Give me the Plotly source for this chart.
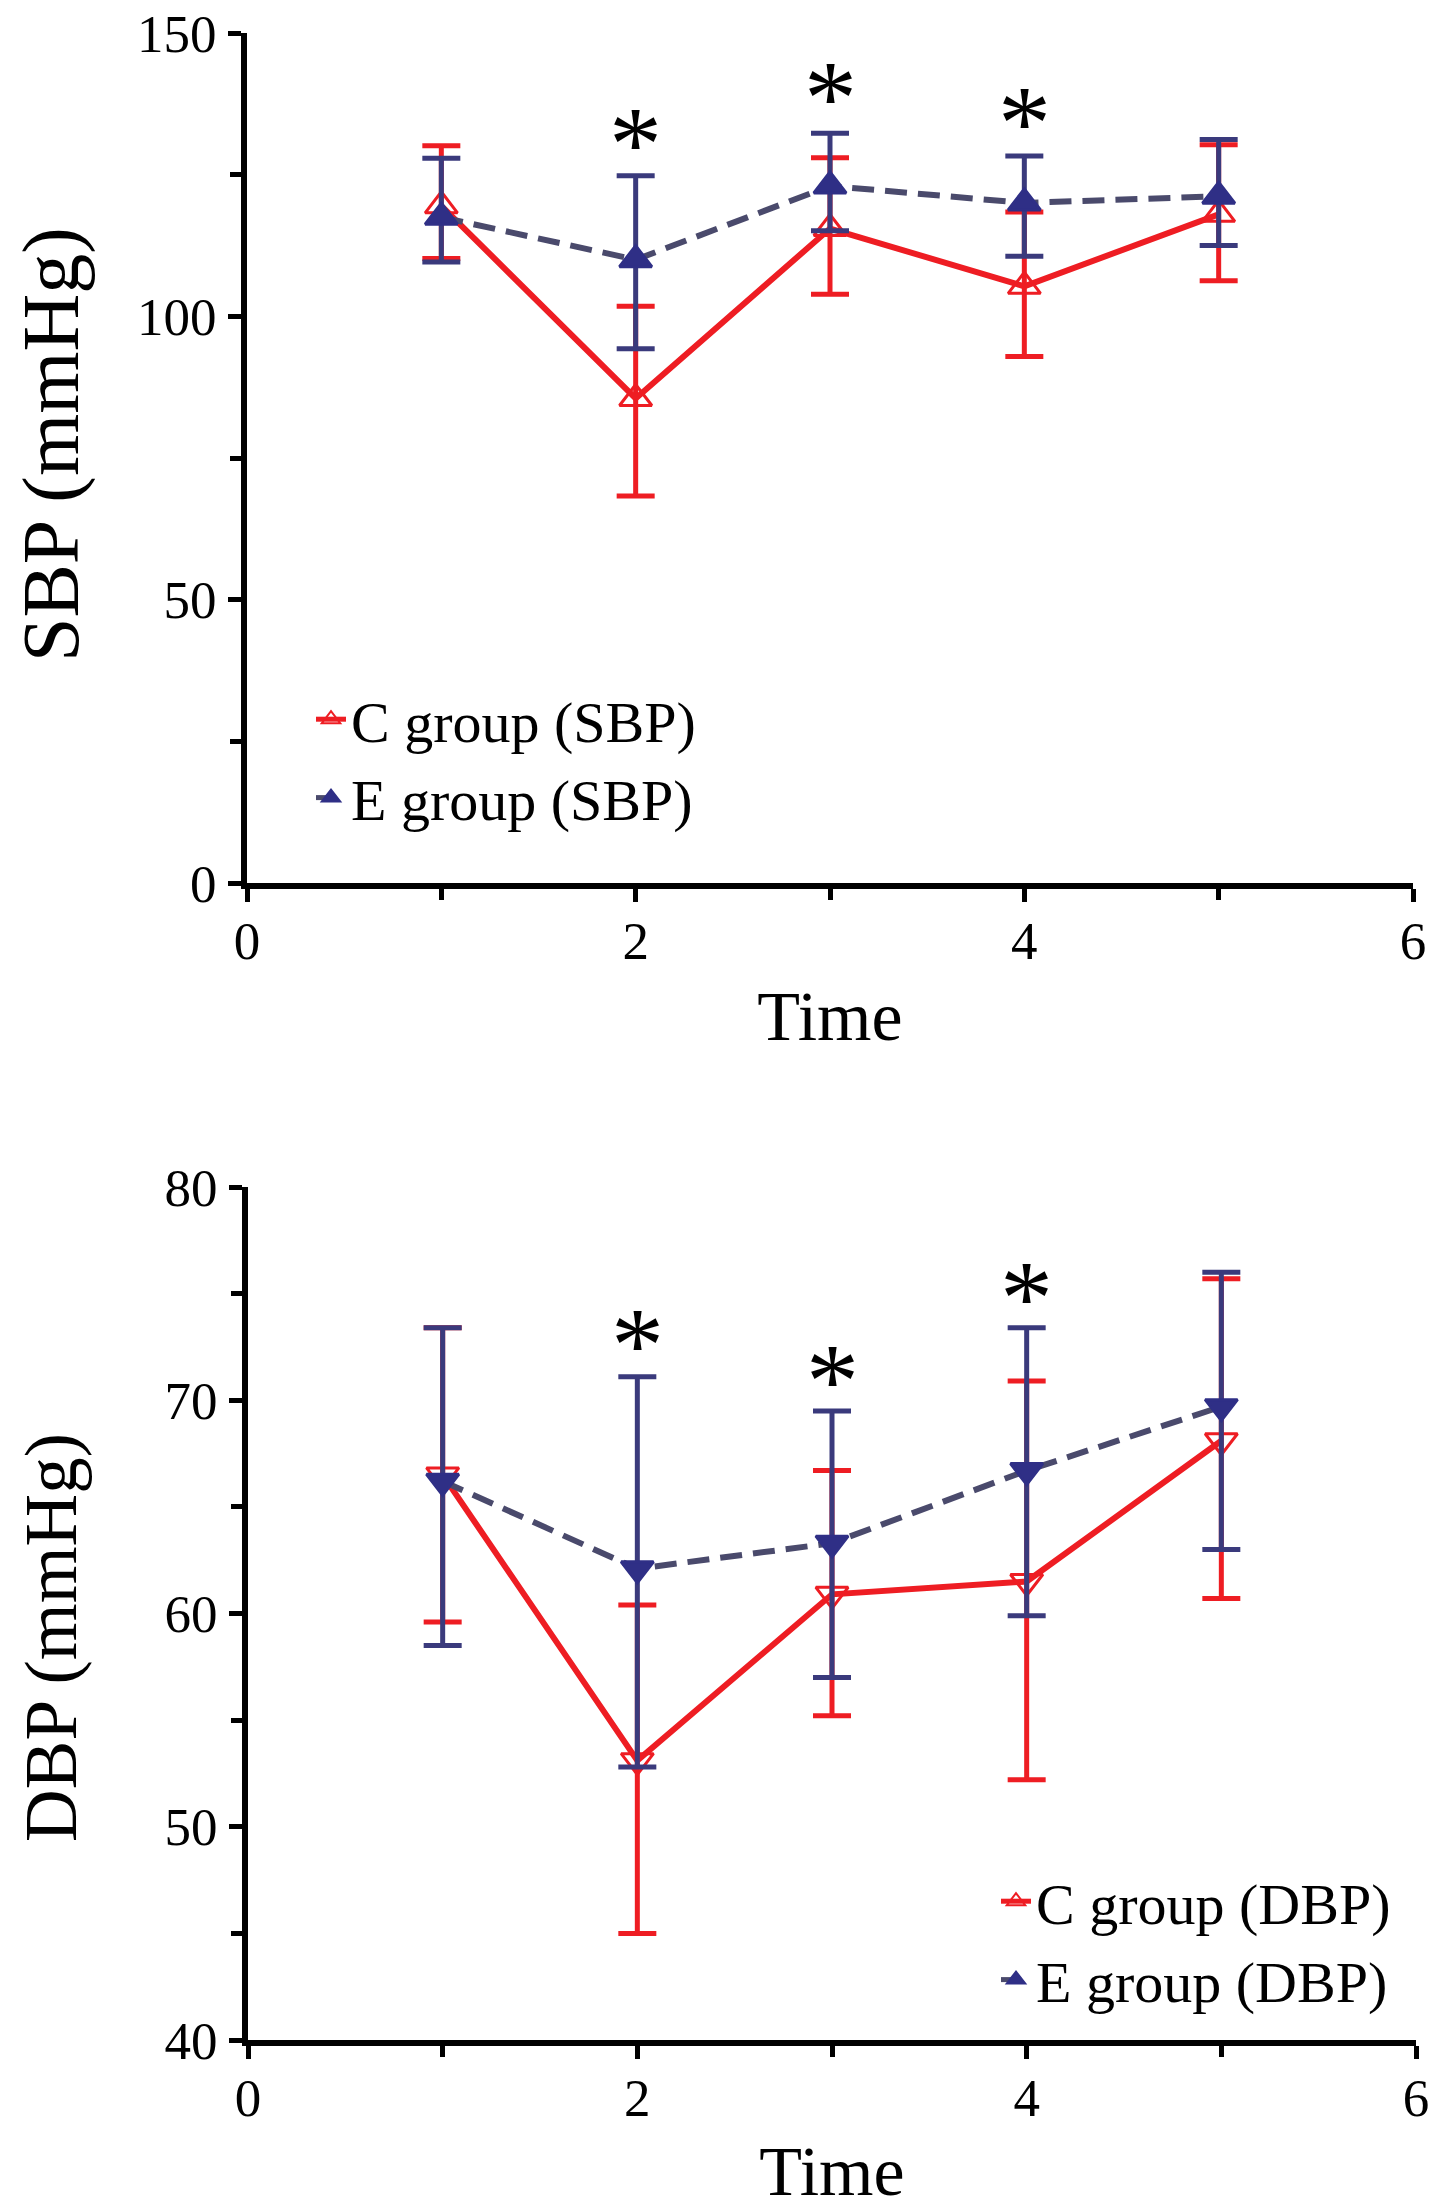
import plotly.graph_objects as go

# ---------------- data ----------------
time = [1, 2, 3, 4, 5]

sbp_c_mean = [119.5, 85.5, 115.5, 105.3, 118.0]
sbp_c_upper = [130.1, 101.8, 128.0, 118.4, 130.3]
sbp_c_lower = [110.2, 68.3, 103.9, 92.9, 106.3]

sbp_e_mean = [117.5, 110.0, 123.0, 120.0, 121.2]
sbp_e_upper = [127.9, 124.8, 132.3, 128.3, 131.2]
sbp_e_lower = [109.6, 94.3, 115.1, 110.6, 112.5]

dbp_c_mean = [66.5, 53.1, 60.9, 61.5, 68.1]
dbp_c_upper = [73.4, 60.4, 66.7, 70.9, 75.7]
dbp_c_lower = [59.6, 45.0, 55.2, 52.2, 60.7]

dbp_e_mean = [66.2, 62.1, 63.3, 66.7, 69.7]
dbp_e_upper = [73.4, 71.1, 69.5, 73.4, 76.0]
dbp_e_lower = [58.5, 52.8, 57.0, 59.9, 63.0]

star_x = [2, 3, 4]
sbp_star_y = [132.7, 140.7, 136.3]
dbp_star_y = [73.2, 71.5, 75.4]

legend_sbp = ["C group (SBP)", "E group (SBP)"]
legend_dbp = ["C group (DBP)", "E group (DBP)"]
y_titles = ["SBP (mmHg)", "DBP (mmHg)"]
x_title = "Time"

# ---------------- style ----------------
RED = "#ee1d23"
NAVY = "#2f2f86"
NAVY_ERR = "#3a3a7c"
DASH_COL = "#4a4a6c"
FONT = "Liberation Serif"
DASH = "22px,11px"
W, H = 1441, 2211


def px_x(v):
    return v / W


def px_y(v):
    return 1 - v / H


fig = go.Figure()


def add_series(xa, ya, mean, upper, lower, mcolor, lcolor, dash, symbol, ecolor):
    fig.add_trace(go.Scatter(
        x=time, y=mean, mode="lines+markers", xaxis=xa, yaxis=ya, showlegend=False,
        line=dict(color=lcolor, width=6, dash=dash),
        marker=dict(symbol=symbol, size=28, color=mcolor, line=dict(color=mcolor, width=3)),
        error_y=dict(type="data", symmetric=False,
                     array=[u - m for u, m in zip(upper, mean)],
                     arrayminus=[m - l for m, l in zip(mean, lower)],
                     color=ecolor, thickness=5, width=19),
    ))


def add_legend_item(name, legend, xa, ya, mcolor, lcolor, dash, symbol):
    fig.add_trace(go.Scatter(
        x=[None], y=[None], mode="lines+markers", name=name, legend=legend,
        xaxis=xa, yaxis=ya,
        line=dict(color=lcolor, width=5, dash=dash),
        marker=dict(symbol=symbol, size=16, color=mcolor, line=dict(color=mcolor, width=2)),
    ))


# top panel (SBP)
add_series("x", "y", sbp_c_mean, sbp_c_upper, sbp_c_lower, RED, RED, "solid", "triangle-up-open", RED)
add_series("x", "y", sbp_e_mean, sbp_e_upper, sbp_e_lower, NAVY, DASH_COL, DASH, "triangle-up", NAVY_ERR)
add_legend_item(legend_sbp[0], "legend", "x", "y", RED, RED, "solid", "triangle-up-open")
add_legend_item(legend_sbp[1], "legend", "x", "y", NAVY, DASH_COL, "dash", "triangle-up")

# bottom panel (DBP)
add_series("x2", "y2", dbp_c_mean, dbp_c_upper, dbp_c_lower, RED, RED, "solid", "triangle-down-open", RED)
add_series("x2", "y2", dbp_e_mean, dbp_e_upper, dbp_e_lower, NAVY, DASH_COL, DASH, "triangle-down", NAVY_ERR)
add_legend_item(legend_dbp[0], "legend2", "x2", "y2", RED, RED, "solid", "triangle-up-open")
add_legend_item(legend_dbp[1], "legend2", "x2", "y2", NAVY, DASH_COL, "dash", "triangle-up")

# significance asterisks
annotations = []
for xa, ya, ys in (("x", "y", sbp_star_y), ("x2", "y2", dbp_star_y)):
    for xv, yv in zip(star_x, ys):
        annotations.append(dict(x=xv, y=yv, xref=xa, yref=ya, text="*", showarrow=False,
                                xanchor="center", yanchor="middle", yshift=-13,
                                font=dict(family=FONT, size=106, color="black")))

# rotated y-axis titles
for text, cx, cy, size in ((y_titles[0], 52, 445, 80), (y_titles[1], 51, 1638, 73)):
    annotations.append(dict(x=px_x(cx), y=px_y(cy), xref="paper", yref="paper", text=text,
                            textangle=-90, showarrow=False, xanchor="center", yanchor="middle",
                            font=dict(family=FONT, size=size, color="black")))


def xaxis_style(domain, anchor, standoff):
    return dict(
        domain=domain, anchor=anchor, range=[0, 6], tick0=0, dtick=2, automargin=False,
        showline=True, linewidth=6, linecolor="black", showgrid=False, zeroline=False,
        ticks="outside", ticklen=13, tickwidth=5, tickcolor="black",
        minor=dict(dtick=1, ticks="outside", ticklen=11, tickwidth=5, tickcolor="black", showgrid=False),
        tickfont=dict(family=FONT, size=53, color="black"), ticklabelstandoff=-7,
        ticklabeloverflow="allow",
        title=dict(text=x_title, font=dict(family=FONT, size=70, color="black"), standoff=standoff),
    )


def yaxis_style(domain, anchor, rng, dtick, minor):
    return dict(
        domain=domain, anchor=anchor, range=rng, tick0=rng[0], dtick=dtick, automargin=False,
        showline=True, linewidth=6, linecolor="black", showgrid=False, zeroline=False,
        ticks="outside", ticklen=13, tickwidth=5, tickcolor="black",
        minor=dict(dtick=minor, ticks="outside", ticklen=11, tickwidth=5, tickcolor="black", showgrid=False),
        tickfont=dict(family=FONT, size=53, color="black"), ticklabelstandoff=1,
        ticklabeloverflow="allow",
    )


fig.update_layout(
    width=W, height=H,
    margin=dict(l=0, r=0, t=0, b=0),
    paper_bgcolor="white", plot_bgcolor="white",
    font=dict(family=FONT, color="black"),
    xaxis=xaxis_style([px_x(247), px_x(1413)], "y", 24),
    yaxis=yaxis_style([px_y(883), px_y(33)], "x", [0, 150], 50, 25),
    xaxis2=xaxis_style([px_x(248), px_x(1416)], "y2", 22),
    yaxis2=yaxis_style([px_y(2040), px_y(1187)], "x2", [40, 80], 10, 5),
    legend=dict(x=311 / W, y=1 - 675 / H, xanchor="left", yanchor="top",
                font=dict(family=FONT, size=58, color="black"),
                bgcolor="rgba(0,0,0,0)", tracegroupgap=0),
    legend2=dict(x=996 / W, y=1 - 1857 / H, xanchor="left", yanchor="top",
                 font=dict(family=FONT, size=58, color="black"),
                 bgcolor="rgba(0,0,0,0)", tracegroupgap=0),
    annotations=annotations,
    showlegend=True,
)

fig.write_html("out.html", config={"displayModeBar": False},
               post_script="document.body.style.margin='0';")
